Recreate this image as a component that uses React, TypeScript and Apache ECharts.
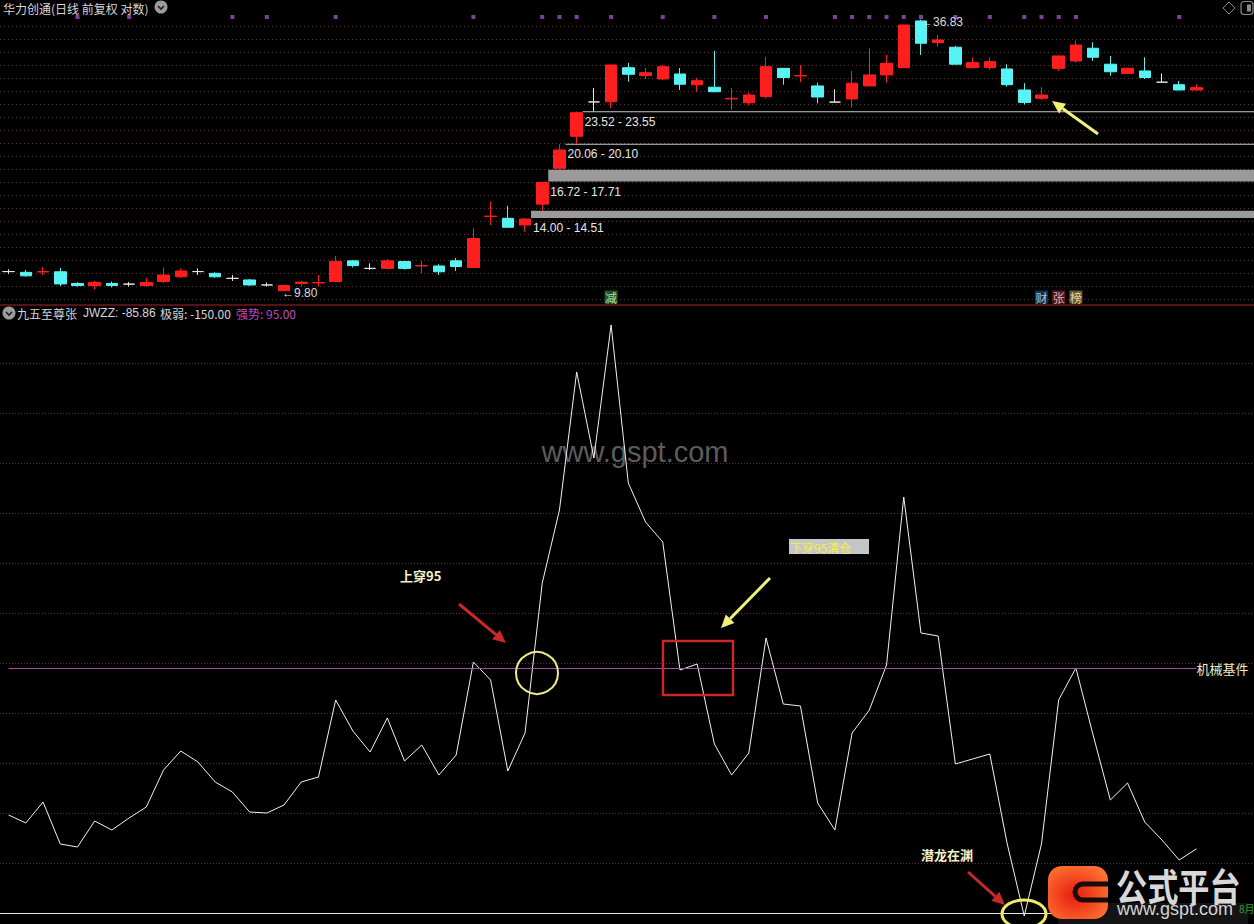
import React, { useEffect, useRef } from "react";
import * as echarts from "echarts";

// ---------- data ----------
const openPrices = [
  10.78, 10.74, 10.76, 10.77, 10.17, 10.07, 10.17, 10.14, 10.07, 10.27,
  10.51, 10.78, 10.69, 10.43, 10.35, 10.1, 9.82, 10.17, 10.2, 10.27,
  11.36, 10.95, 10.95, 11.32, 11.08, 11.08, 11.36, 11.0, 14.1, 13.98,
  13.53, 14.98, 17.84, 20.85, 24.66, 24.68, 29.14, 28.03, 27.58, 28.26,
  26.82, 26.49, 25.02, 24.56, 25.3, 29.05, 28.0, 26.66, 24.64, 25.02,
  26.66, 28.13, 29.14, 36.6, 32.93, 32.2, 29.14, 29.14, 28.96, 26.14,
  25.1, 29.05, 30.11, 32.04, 29.64, 28.34, 28.68, 27.15, 26.82, 26.14,
];
const closePrices = [
  10.78, 10.56, 10.78, 10.15, 10.07, 10.22, 10.07, 10.14, 10.22, 10.6,
  10.81, 10.78, 10.51, 10.43, 10.1, 10.1, 10.07, 10.24, 10.22, 11.32,
  11.1, 10.95, 11.36, 10.95, 11.1, 10.77, 11.05, 12.67, 14.13, 13.38,
  13.93, 16.65, 19.51, 23.4, 24.66, 29.53, 28.22, 28.44, 29.29, 26.88,
  27.35, 25.92, 25.1, 25.51, 29.29, 27.77, 28.03, 25.26, 24.64, 27.02,
  28.13, 29.77, 35.89, 32.83, 33.36, 29.64, 29.87, 30.02, 26.82, 24.6,
  25.51, 30.86, 32.55, 30.66, 28.57, 29.05, 27.77, 27.15, 26.14, 26.44,
];
const lowPrices = [
  10.65, 10.51, 10.6, 10.05, 10.02, 9.88, 9.98, 10.02, 10.02, 10.19,
  10.46, 10.6, 10.46, 10.3, 10.05, 10.02, 9.8, 10.02, 10.02, 10.25,
  11.0, 10.86, 10.89, 10.89, 10.69, 10.6, 10.81, 11.0, 13.53, 13.38,
  13.09, 14.51, 17.71, 20.1, 23.55, 23.94, 27.22, 27.58, 27.45, 26.14,
  25.92, 25.85, 23.75, 24.23, 25.06, 26.82, 27.18, 24.49, 24.64, 24.01,
  26.66, 27.09, 29.1, 31.02, 32.3, 29.6, 29.05, 28.82, 26.57, 24.35,
  24.89, 28.68, 29.87, 30.11, 28.03, 28.26, 27.58, 27.15, 26.1, 26.1,
];
const highPrices = [
  10.91, 10.86, 11.02, 10.97, 10.24, 10.3, 10.27, 10.24, 10.44, 11.0,
  10.95, 10.95, 10.74, 10.6, 10.4, 10.22, 10.1, 10.3, 10.6, 11.64,
  11.41, 11.22, 11.47, 11.36, 11.36, 11.17, 11.52, 13.33, 15.15, 14.85,
  14.0, 16.72, 20.06, 23.52, 26.4, 29.6, 29.82, 29.1, 29.53, 29.1,
  27.72, 31.62, 26.4, 25.8, 30.71, 29.1, 29.53, 27.09, 26.23, 28.68,
  32.04, 31.02, 35.95, 36.83, 34.18, 32.41, 30.66, 30.66, 29.64, 27.02,
  26.49, 30.9, 33.25, 32.99, 30.86, 29.14, 30.66, 28.34, 27.32, 26.88,
];
const jwzzValues = [
  -52, -60, -39, -81, -84, -58, -67, -55, -44, -7,
  12, 1, -19, -29, -49, -50, -42, -19, -14, 63,
  32, 11, 45, 2, 18, -12, 8, 101, 83, -8,
  30, 180, 253, 391, 305, 438, 280, 241, 221, 93,
  99, 19, -12, 10, 125, 59, 57, -40, -67, 30,
  53, 98, 266, 130, 127, -1, 4, 9, -80, -153,
  -81, 63, 95, 28, -37, -20, -59, -77, -97, -85.86,
];
const categories = openPrices.map((_, i) => `D${i + 1}`);
const signalDotDays = [4, 7, 13, 15, 19, 27, 31, 32, 33, 35, 38, 41, 44, 48, 49, 50, 51, 52, 53, 55, 57, 59, 60, 61, 62, 68];
const signalTags: [number, string][] = [[35, "减"], [60, "财"], [61, "张"], [62, "榜"]];
const gapZones = [
  [30, 14.0, 14.51],
  [31, 16.72, 17.71],
  [32, 20.06, 20.1],
  [33, 23.52, 23.55],
];
const WEAK_LEVEL = -150;
const STRONG_LEVEL = 95;

// ---------- layout / style constants ----------
const PRICE_MIN = 9.385;
const PRICE_MAX = 40.54;
const CJK = '"Noto Sans CJK SC", sans-serif';
const LAT = '"Liberation Sans", Arial, sans-serif';
const TAG_STYLE: Record<string, { bg: string; fg: string }> = {
  减: { bg: "#2d6a2d", fg: "#d0ffd0" },
  财: { bg: "#1d3d5c", fg: "#cfeaff" },
  张: { bg: "#6e1a22", fg: "#ffd6d6" },
  榜: { bg: "#8a6a32", fg: "#fff2d0" },
};

const GMark = echarts.graphic.extendPath("M 34 0 L 9 0 A 8 8 0 0 0 9 16 L 34 16", {});
echarts.graphic.registerShape("gmark", GMark);

function arrow(x1: number, y1: number, x2: number, y2: number, color: string, w: number) {
  const ang = Math.atan2(y2 - y1, x2 - x1);
  const hl = 13;
  const hw = 6;
  const bx = x2 - hl * Math.cos(ang);
  const by = y2 - hl * Math.sin(ang);
  const px = -Math.sin(ang) * hw;
  const py = Math.cos(ang) * hw;
  return [
    { type: "line", z: 100, shape: { x1, y1, x2: bx, y2: by }, style: { stroke: color, lineWidth: w } },
    {
      type: "polygon",
      z: 100,
      shape: { points: [[x2, y2], [bx + px, by + py], [bx - px, by - py]] },
      style: { fill: color },
    },
  ];
}

function chevron(cx: number, cy: number) {
  return [
    { type: "circle", z: 100, shape: { cx, cy, r: 6.5 }, style: { fill: "#9c9c9c" } },
    {
      type: "polyline",
      z: 101,
      shape: { points: [[cx - 3, cy - 1], [cx, cy + 2], [cx + 3, cy - 1]] },
      style: { stroke: "#202020", lineWidth: 1.6, fill: "none" },
    },
  ];
}

export default function App() {
  const ref = useRef<HTMLDivElement>(null);

  useEffect(() => {
    if (!ref.current) return;
    const chart = echarts.init(ref.current, undefined, { renderer: "svg" });

    const candleData = categories.map((_, i) => {
      const item: any = { value: [openPrices[i], closePrices[i], lowPrices[i], highPrices[i]] };
      if (openPrices[i] === closePrices[i]) {
        item.itemStyle = { color: "#e6e6e6", color0: "#e6e6e6", borderColor: "#e6e6e6", borderColor0: "#e6e6e6" };
      }
      return item;
    });

    let iLow = 0;
    let iHigh = 0;
    lowPrices.forEach((v, i) => { if (v < lowPrices[iLow]) iLow = i; });
    highPrices.forEach((v, i) => { if (v > highPrices[iHigh]) iHigh = i; });

    const lastJ = jwzzValues[jwzzValues.length - 1];

    const graphic: any[] = [
      // separator between panels
      { type: "line", z: 50, shape: { x1: 0, y1: 305, x2: 1254, y2: 305 }, style: { stroke: "#701818", lineWidth: 1.5 } },
      // top header
      { type: "text", z: 100, x: 3, y: 8, style: { text: "华力创通(日线 前复权 对数)", fill: "#d6d6d6", font: `12px ${CJK}`, verticalAlign: "middle" } },
      ...chevron(161, 7),
      // top-right icons
      { type: "polygon", z: 100, shape: { points: [[1229, 2], [1235, 8], [1229, 14], [1223, 8]] }, style: { stroke: "#8a8a8a", fill: "none", lineWidth: 1 } },
      { type: "rect", z: 100, shape: { x: 1241, y: 1.5, width: 12, height: 13, r: 3 }, style: { stroke: "#8a8a8a", fill: "none", lineWidth: 1.2 } },
      { type: "rect", z: 100, shape: { x: 1247, y: 4.5, width: 4, height: 7 }, style: { fill: "#8a8a8a" } },
      // indicator header
      ...chevron(9, 313),
      { type: "text", z: 100, x: 17, y: 313, style: { text: "九五至尊张", fill: "#d6d6d6", font: `12px ${CJK}`, verticalAlign: "middle" } },
      { type: "text", z: 100, x: 83, y: 313, style: { text: `JWZZ: ${lastJ.toFixed(2)}`, fill: "#d6d6d6", font: `12px ${LAT}`, verticalAlign: "middle" } },
      { type: "text", z: 100, x: 160, y: 313, style: { text: `极弱: ${WEAK_LEVEL.toFixed(2)}`, fill: "#d6d6d6", font: `12px ${CJK}`, verticalAlign: "middle" } },
      { type: "text", z: 100, x: 236, y: 313, style: { text: `强势: ${STRONG_LEVEL.toFixed(2)}`, fill: "#c048c0", font: `12px ${CJK}`, verticalAlign: "middle" } },
      // watermark
      { type: "text", z: 0, x: 635, y: 452, style: { text: "www.gspt.com", fill: "#5c5c5c", font: `29px ${LAT}`, align: "center", verticalAlign: "middle" } },
      // annotations
      { type: "text", z: 100, x: 400, y: 575, style: { text: "上穿95", fill: "#f4f0c8", font: `bold 13px ${CJK}`, verticalAlign: "middle" } },
      ...arrow(459, 604, 506, 643, "#c8282a", 3),
      { type: "circle", z: 100, shape: { cx: 537, cy: 673, r: 21 }, style: { stroke: "#f0ec8a", fill: "none", lineWidth: 2 } },
      { type: "rect", z: 100, shape: { x: 663, y: 641, width: 70, height: 54 }, style: { stroke: "#c8282a", fill: "none", lineWidth: 2.5 } },
      ...arrow(770, 578, 721, 628, "#f0f07a", 3),
      { type: "rect", z: 100, shape: { x: 789, y: 539, width: 80, height: 15 }, style: { fill: "#c6c6c6" } },
      { type: "text", z: 101, x: 790, y: 547, style: { text: "下穿95清仓", fill: "#f4ee4a", font: `12px ${CJK}`, verticalAlign: "middle" } },
      ...arrow(1098, 134, 1052, 101, "#f0f07a", 3),
      { type: "text", z: 100, x: 921, y: 854, style: { text: "潜龙在渊", fill: "#f4f0c8", font: `bold 13px ${CJK}`, verticalAlign: "middle" } },
      ...arrow(968, 872, 1005, 905, "#c8282a", 3),
      { type: "ellipse", z: 100, shape: { cx: 1024, cy: 914, rx: 22, ry: 14 }, style: { stroke: "#f0ec6a", fill: "none", lineWidth: 3 } },
      // logo
      { type: "rect", z: 110, shape: { x: 1058, y: 903, width: 190, height: 21 }, style: { fill: "#141414" } },
      {
        type: "rect",
        z: 111,
        shape: { x: 1048, y: 866, width: 60, height: 53, r: 14 },
        style: {
          fill: new echarts.graphic.RadialGradient(0.45, 0.55, 0.7, [
            { offset: 0, color: "#e81c0e" },
            { offset: 1, color: "#ff7c36" },
          ]),
        },
      },
      { type: "gmark", z: 112, x: 1074, y: 884, style: { stroke: "#1a0a08", fill: "none", lineWidth: 5 } },
      { type: "text", z: 112, x: 1116, y: 885, scaleX: 0.82, style: { text: "公式平台", fill: "#d8d8d8", font: `bold 38px ${CJK}`, verticalAlign: "middle" } },
      { type: "text", z: 112, x: 1117, y: 909, style: { text: "www.gspt.com", fill: "#d4d4d4", font: `18px ${LAT}`, verticalAlign: "middle" } },
      { type: "text", z: 112, x: 1239, y: 908, style: { text: "8月", fill: "#2fa02f", font: `10px ${CJK}`, verticalAlign: "middle" } },
    ];

    const option: any = {
      animation: false,
      backgroundColor: "#000000",
      grid: [
        { left: 0, top: 0, width: 1205, height: 300 },
        { left: 0, top: 363, width: 1205, height: 550 },
        { left: 0, top: 26, width: 1254, height: 273 },
        { left: 0, top: 363, width: 1254, height: 500 },
      ],
      xAxis: [
        { gridIndex: 0, type: "category", data: categories, boundaryGap: true, show: false },
        { gridIndex: 1, type: "category", data: categories, boundaryGap: true, show: false },
        { gridIndex: 2, type: "value", min: 0, max: 1, show: false },
        { gridIndex: 3, type: "value", min: 0, max: 1, show: false },
      ],
      yAxis: [
        { gridIndex: 0, type: "log", min: PRICE_MIN, max: PRICE_MAX, show: false },
        { gridIndex: 1, type: "value", min: -150, max: 400, interval: 50, show: false },
        {
          gridIndex: 2, type: "value", min: 0, max: 21, interval: 1,
          axisLine: { show: false }, axisTick: { show: false }, axisLabel: { show: false },
          splitLine: { show: true, lineStyle: { type: [1, 3], color: "#5a3434", width: 1 } },
        },
        {
          gridIndex: 3, type: "value", min: 0, max: 10, interval: 1,
          axisLine: { show: false }, axisTick: { show: false }, axisLabel: { show: false },
          splitLine: { show: true, lineStyle: { type: [1, 2], color: "#5e3030", width: 1 } },
        },
      ],
      graphic,
      series: [
        {
          type: "candlestick",
          xAxisIndex: 0,
          yAxisIndex: 0,
          barWidth: 12,
          data: candleData,
          itemStyle: { color: "#ff1e1e", color0: "#58f4f4", borderColor: "#ff1e1e", borderColor0: "#58f4f4", borderWidth: 1 },
          markPoint: {
            silent: true,
            symbol: "circle",
            symbolSize: 0,
            label: { show: true, color: "#dcdcdc", fontSize: 12, fontFamily: LAT, position: "right", distance: 0 },
            data: [
              { coord: [categories[iLow], lowPrices[iLow]], label: { formatter: `←${lowPrices[iLow].toFixed(2)}`, offset: [-2, 2] } },
              { coord: [categories[iHigh], highPrices[iHigh]], label: { formatter: `←${highPrices[iHigh].toFixed(2)}`, offset: [0, 2] } },
            ],
          },
        },
        {
          type: "custom",
          xAxisIndex: 0,
          yAxisIndex: 0,
          clip: false,
          encode: { x: 0, y: [1, 2] },
          data: gapZones,
          renderItem: (params: any, api: any) => {
            const idx = api.value(0);
            const lo = api.value(1);
            const hi = api.value(2);
            const pLo = api.coord([idx, lo]);
            const pHi = api.coord([idx, hi]);
            const x0 = pLo[0] + 6;
            const x1 = api.getWidth();
            const h = Math.max(1, pLo[1] - pHi[1]);
            const thick = h >= 3;
            return {
              type: "group",
              children: [
                { type: "rect", shape: { x: x0, y: pHi[1], width: x1 - x0, height: h }, style: { fill: thick ? "#9a9a9a" : "#c8c8c8" } },
                {
                  type: "text",
                  x: x0 + 2,
                  y: pLo[1] + 4,
                  style: { text: `${lo.toFixed(2)} - ${hi.toFixed(2)}`, fill: "#e6e6e6", font: `12px ${LAT}`, align: "left", verticalAlign: "top" },
                },
              ],
            };
          },
        },
        {
          type: "scatter",
          xAxisIndex: 0,
          yAxisIndex: 0,
          clip: false,
          symbol: "rect",
          symbolSize: 4,
          symbolOffset: [0, 17],
          itemStyle: { color: "#a050c0" },
          data: signalDotDays.map((d) => [categories[d], PRICE_MAX]),
        },
        {
          type: "scatter",
          xAxisIndex: 0,
          yAxisIndex: 0,
          clip: false,
          symbol: "rect",
          symbolSize: [13, 13],
          symbolOffset: [0, -3],
          data: signalTags.map(([d, t]) => ({
            value: [categories[d], PRICE_MIN],
            itemStyle: { color: TAG_STYLE[t].bg },
            label: { show: true, position: "inside", formatter: t, color: TAG_STYLE[t].fg, fontSize: 12, fontFamily: CJK },
          })),
        },
        {
          type: "line",
          xAxisIndex: 1,
          yAxisIndex: 1,
          clip: false,
          symbol: "none",
          data: jwzzValues,
          lineStyle: { color: "#f2f2f2", width: 1 },
          markLine: {
            silent: true,
            symbol: ["none", "none"],
            data: [
              [
                {
                  coord: [categories[0], STRONG_LEVEL],
                  lineStyle: { color: "#a850a8", width: 1.2, type: "solid" },
                  label: { show: true, position: "end", formatter: "机械基件", color: "#ecebc0", fontSize: 13, fontFamily: CJK, distance: 0 },
                },
                { coord: [categories[categories.length - 1], STRONG_LEVEL] },
              ],
              {
                yAxis: WEAK_LEVEL,
                lineStyle: { color: "#e8e8e8", width: 1, type: "solid" },
                label: { show: false },
              },
            ],
          },
        },
      ],
    };

    chart.setOption(option);
    return () => chart.dispose();
  }, []);

  return (
    <div
      ref={ref}
      style={{ position: "fixed", left: 0, top: 0, width: 1254, height: 924, background: "#000" }}
    />
  );
}
